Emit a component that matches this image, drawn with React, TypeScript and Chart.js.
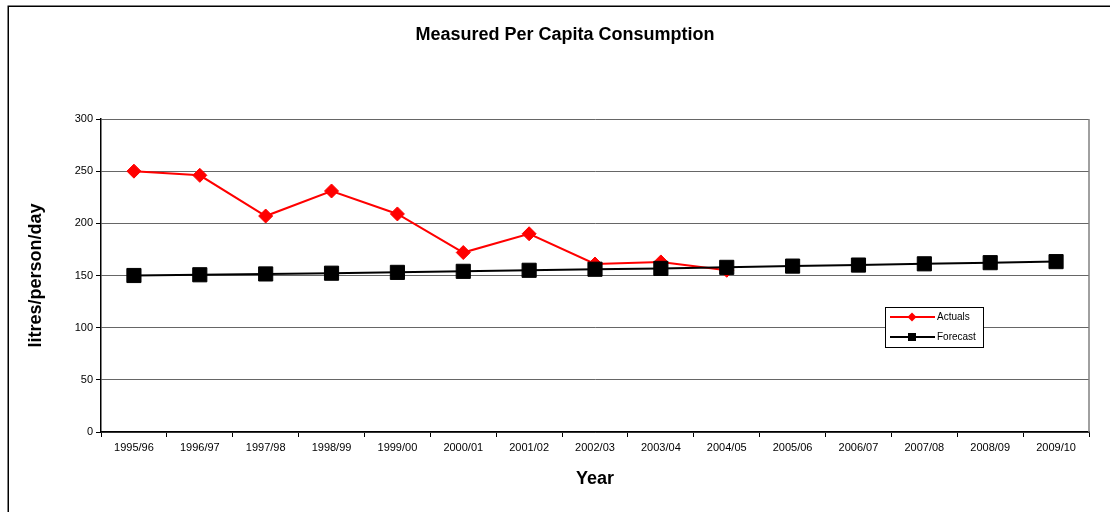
import React, { useEffect, useRef } from "react";
import { Chart, registerables } from "chart.js";

Chart.register(...registerables);

const chartTitle = "Measured Per Capita Consumption";
const yAxisTitle = "litres/person/day";
const xAxisTitle = "Year";

const categories = [
  "1995/96", "1996/97", "1997/98", "1998/99", "1999/00",
  "2000/01", "2001/02", "2002/03", "2003/04", "2004/05",
  "2005/06", "2006/07", "2007/08", "2008/09", "2009/10",
];

const actuals: (number | null)[] = [
  250, 246, 207, 231, 209, 172, 190, 161, 163, 155,
  null, null, null, null, null,
];

const forecast = [
  150, 150.7, 151.5, 152.2, 153, 154, 155, 156, 156.8, 157.8,
  159, 160, 161.2, 162.3, 163.3,
];

const yTicks = [0, 50, 100, 150, 200, 250, 300];

const FONT = "'Liberation Sans', Arial, sans-serif";

const decorPlugin = {
  id: "decor",
  beforeDraw(chart: any) {
    const ctx = chart.ctx;
    ctx.save();
    ctx.fillStyle = "#ffffff";
    ctx.fillRect(0, 0, chart.width, chart.height);
    // outer frame (left and top)
    ctx.strokeStyle = "#000";
    ctx.lineWidth = 1.5;
    ctx.beginPath();
    ctx.moveTo(8.25, chart.height);
    ctx.lineTo(8.25, 6.25);
    ctx.lineTo(chart.width, 6.25);
    ctx.stroke();
    ctx.restore();
  },
  afterDraw(chart: any) {
    const ctx = chart.ctx;
    const area = chart.chartArea;
    ctx.save();
    // right border of plot
    ctx.strokeStyle = "#808080";
    ctx.lineWidth = 1.5;
    ctx.beginPath();
    ctx.moveTo(area.right, area.top);
    ctx.lineTo(area.right, area.bottom);
    ctx.stroke();

    // title
    ctx.fillStyle = "#000";
    ctx.font = `bold 18px ${FONT}`;
    ctx.textAlign = "center";
    ctx.textBaseline = "middle";
    ctx.fillText(chartTitle, 565, 35);

    // legend box
    const bx = 885, by = 307, bw = 98, bh = 40;
    ctx.fillStyle = "#fff";
    ctx.fillRect(bx, by, bw, bh);
    ctx.strokeStyle = "#000";
    ctx.lineWidth = 1;
    ctx.strokeRect(bx + 0.5, by + 0.5, bw, bh);

    const rows = [
      { ds: chart.data.datasets[0], y: 317, shape: "diamond" },
      { ds: chart.data.datasets[1], y: 337, shape: "square" },
    ];
    rows.forEach((r) => {
      ctx.strokeStyle = r.ds.borderColor;
      ctx.fillStyle = r.ds.borderColor;
      ctx.lineWidth = 2;
      ctx.beginPath();
      ctx.moveTo(890, r.y);
      ctx.lineTo(935, r.y);
      ctx.stroke();
      const cx = 912;
      if (r.shape === "diamond") {
        ctx.beginPath();
        ctx.moveTo(cx, r.y - 4.5);
        ctx.lineTo(cx + 4.5, r.y);
        ctx.lineTo(cx, r.y + 4.5);
        ctx.lineTo(cx - 4.5, r.y);
        ctx.closePath();
        ctx.fill();
      } else {
        ctx.fillRect(cx - 4, r.y - 4, 8, 8);
      }
      ctx.fillStyle = "#000";
      ctx.font = `10px ${FONT}`;
      ctx.textAlign = "left";
      ctx.textBaseline = "middle";
      ctx.fillText(r.ds.label, 937, r.y + 0.5);
    });
    ctx.restore();
  },
};

export default function App() {
  const canvasRef = useRef<HTMLCanvasElement | null>(null);

  useEffect(() => {
    if (!canvasRef.current) return;
    const chart = new Chart(canvasRef.current, {
      type: "line",
      data: {
        labels: categories,
        datasets: [
          {
            label: "Actuals",
            data: actuals,
            borderColor: "#ff0000",
            backgroundColor: "#ff0000",
            borderWidth: 2,
            pointStyle: "rectRot",
            pointRadius: 7,
            pointBorderWidth: 1,
            pointBackgroundColor: "#ff0000",
            pointBorderColor: "#ff0000",
            tension: 0,
            spanGaps: false,
            order: 1,
          },
          {
            label: "Forecast",
            data: forecast,
            borderColor: "#000000",
            backgroundColor: "#000000",
            borderWidth: 2,
            pointStyle: "rect",
            pointRadius: 10,
            pointBorderWidth: 1,
            pointBackgroundColor: "#000000",
            pointBorderColor: "#000000",
            tension: 0,
            order: 0,
          },
        ],
      },
      options: {
        responsive: false,
        animation: false,
        layout: { padding: { left: 0, top: 119, right: 21, bottom: 0 } },
        plugins: {
          legend: { display: false },
          title: { display: false },
          tooltip: { enabled: false },
        },
        scales: {
          x: {
            type: "category",
            offset: true,
            grid: {
              offset: true,
              drawOnChartArea: false,
              drawTicks: true,
              tickLength: 5,
              tickColor: "#000",
              tickWidth: 1,
            },
            border: { color: "#000", width: 1.5 },
            ticks: {
              color: "#000",
              font: { family: FONT, size: 11 },
              padding: 4,
              maxRotation: 0,
              autoSkip: false,
            },
            title: {
              display: true,
              text: xAxisTitle,
              color: "#000",
              font: { family: FONT, size: 18, weight: "bold" },
              padding: { top: 0, bottom: 22 },
            },
            afterFit(scale: any) {
              scale.height = 80;
            },
          },
          y: {
            min: 0,
            max: 300,
            afterBuildTicks(scale: any) {
              scale.ticks = yTicks.map((v) => ({ value: v }));
            },
            grid: {
              color: "#666",
              lineWidth: 1,
              drawTicks: true,
              tickLength: 5,
              tickColor: "#000",
            },
            border: { color: "#000", width: 1.5 },
            ticks: {
              color: "#000",
              font: { family: FONT, size: 11 },
              padding: 3,
            },
            title: {
              display: true,
              text: yAxisTitle,
              color: "#000",
              font: { family: FONT, size: 18, weight: "bold" },
              padding: { top: 25, bottom: 0 },
            },
            afterFit(scale: any) {
              scale.width = 101;
            },
          },
        },
      },
      plugins: [decorPlugin],
    });
    return () => chart.destroy();
  }, []);

  return (
    <div style={{ position: "absolute", left: 0, top: 0, width: 1110, height: 512, background: "#fff" }}>
      <canvas ref={canvasRef} width={1110} height={512} style={{ display: "block" }} />
    </div>
  );
}
